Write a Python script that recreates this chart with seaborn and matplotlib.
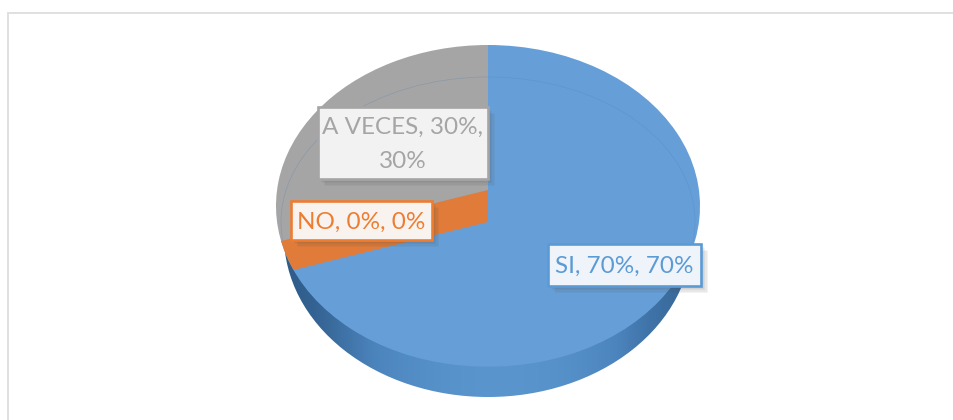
import numpy as np
import matplotlib.pyplot as plt
import matplotlib.patheffects as pe
from matplotlib.patches import Circle, Polygon, Rectangle, Ellipse
import seaborn as sns

sns.set_theme(style="white")
plt.rcParams['font.family'] = ['Lato', 'DejaVu Sans']

# data
categories = ["SI", "NO", "A VECES"]
values = [70, 0, 30]
colors = ["#669fd8", "#e07b39", "#a5a5a5"]
box_edges = ["#5b9bd5", "#ed7d31", "#a5a5a5"]
box_fills = ["#eff3fa", "#f9f3ef", "#f2f2f2"]
label_texts = [f"{c}, {v}%, {v}%" for c, v in zip(categories, values)]
label_texts[2] = f"{categories[2]}, {values[2]}%,\n{values[2]}%"

W, H = 954, 420


def px_axes(fig, left, top, right, bottom):
    return fig.add_axes([left / W, 1 - bottom / H, (right - left) / W, (bottom - top) / H])


fig = plt.figure(figsize=(W / 100, H / 100), dpi=100, facecolor="white")

# outer frame
bg = px_axes(fig, 0, 0, W, H)
bg.set_xlim(0, W)
bg.set_ylim(H, 0)
bg.axis("off")
bg.set_zorder(0)
bg.plot([8.5, 8.5], [H, 13], color="#e0e0e0", lw=1.4)
bg.plot([8.5, W], [13, 13], color="#e0e0e0", lw=1.4)

# rim, a lower and slightly narrower ellipse with a shaded side
rim = px_axes(fig, 284, 75, 692, 397)
rim.set_zorder(1)
rim.axis("off")
shade = np.array([0.0, 0.4, 0.68, 0.85, 0.88, 0.78, 0.5, 0.15]).reshape(1, -1)
img = rim.imshow(shade, extent=(-1, 1, -1, 1), aspect="auto", interpolation="bicubic",
                 cmap=sns.blend_palette(["#2f5c8a", "#4d86bf", "#5f9ad2"], as_cmap=True), vmin=0, vmax=1)
rim.set_xlim(-1, 1)
rim.set_ylim(-1, 1)
img.set_clip_path(Circle((0, 0), 1, transform=rim.transData))

# top surface of the pie
top = px_axes(fig, 276, 45, 700, 367)
top.set_zorder(2)
top.patch.set_alpha(0)
top.pie(values, colors=colors, startangle=90, counterclock=False, radius=1,
        wedgeprops={"linewidth": 0})
top.set_aspect("auto")
top.set_xlim(-1, 1)
top.set_ylim(-1, 1)

# cut face between the first and last slice, drawn with the NO colour
cut = np.deg2rad(90 - 360 * values[0] / sum(values))
dx, dy = np.cos(cut) * 1.3, np.sin(cut) * 1.3
half = 16 / 161
band = Polygon([(0, half), (dx, dy + half), (dx, dy - half), (0, -half)],
               closed=True, facecolor=colors[1], edgecolor="none", zorder=5)
top.add_patch(band)
band.set_clip_path(Circle((0, 0), 1, transform=top.transData))

# faint inner ring of the bevel
ring = Ellipse((0, -16 / 161), 2 * 207 / 212, 2 * 145 / 161, facecolor="none",
               edgecolor="#4a7fb5", lw=0.5, alpha=0.3, zorder=4)
top.add_patch(ring)
ring.set_clip_path(Circle((0, 0), 1, transform=top.transData))

# data labels
over = px_axes(fig, 0, 0, W, H)
over.set_xlim(0, W)
over.set_ylim(H, 0)
over.axis("off")
over.patch.set_alpha(0)
over.set_zorder(3)

boxes = [(548, 244, 153, 42), (291, 201, 141, 39), (318, 107, 170, 72)]
soft = [pe.SimplePatchShadow(offset=(o, -o), shadow_rgbFace="#555555", alpha=0.07) for o in (5, 4, 3, 2)]
for i, (x, y, w, h) in enumerate(boxes):
    r = Rectangle((x, y), w, h, facecolor=box_fills[i], edgecolor=box_edges[i], lw=1.9)
    r.set_path_effects(soft + [pe.Normal()])
    over.add_patch(r)
    over.text(x + w / 2, y + h / 2 + 1.5, label_texts[i], color=box_edges[i], fontsize=17.5,
              ha="center", va="center", linespacing=1.75)

fig.savefig("out.png", dpi=100)
